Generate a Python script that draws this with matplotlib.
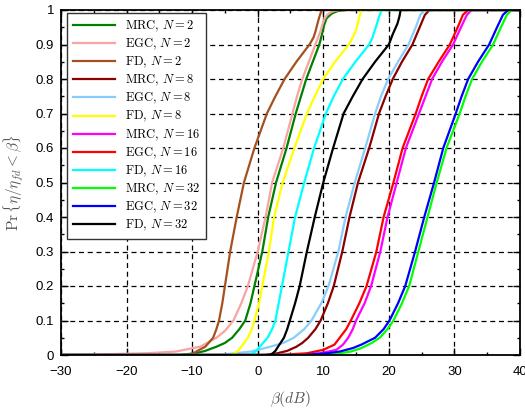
import matplotlib
matplotlib.use("Agg")
import matplotlib.pyplot as plt
from matplotlib.ticker import MultipleLocator

plt.rcParams['mathtext.fontset'] = 'cm'
plt.rcParams['font.family'] = ['Liberation Sans', 'DejaVu Sans']

labels = [r'$\mathrm{MRC},\,N=2$', r'$\mathrm{EGC},\,N=2$', r'$\mathrm{FD},\,N=2$',
          r'$\mathrm{MRC},\,N=8$', r'$\mathrm{EGC},\,N=8$', r'$\mathrm{FD},\,N=8$',
          r'$\mathrm{MRC},\,N=16$', r'$\mathrm{EGC},\,N=16$', r'$\mathrm{FD},\,N=16$',
          r'$\mathrm{MRC},\,N=32$', r'$\mathrm{EGC},\,N=32$', r'$\mathrm{FD},\,N=32$']
colors = ['#008000', '#f9a3a3', '#a5501e', '#8b0000', '#87cefa', '#ffff00',
          '#ff00ff', '#ff0000', '#00ffff', '#00ff00', '#0000ff', '#000000']

# probability levels (y) and beta in dB (x) per series
p_mrc2 = [0, 0, 0.005, 0.012, 0.024, 0.035, 0.05, 0.075, 0.1, 0.15, 0.2, 0.3, 0.4, 0.5, 0.6, 0.7, 0.75, 0.8, 0.85, 0.9, 0.937, 0.955, 0.976, 0.99, 0.997, 1, 1]
x_mrc2 = [-30, -12, -9.5, -8.0, -6.3, -5.0, -3.9, -2.8, -1.9, -1.1, -0.5, 0.7, 1.6, 2.8, 4.4, 5.8, 6.6, 7.4, 8.4, 9.4, 9.9, 10.1, 10.5, 11.3, 12.2, 13.5, 40]

p_egc2 = [0, 0.002, 0.005, 0.01, 0.024, 0.05, 0.07, 0.1, 0.15, 0.2, 0.3, 0.4, 0.5, 0.6, 0.7, 0.75, 0.8, 0.85, 0.9, 0.94, 0.96, 0.975, 0.986, 0.994, 0.998, 1, 1]
x_egc2 = [-30, -24, -17, -12.5, -8.8, -6.3, -5.0, -3.7, -2.5, -1.5, 0.0, 1.2, 2.2, 3.9, 5.3, 6.0, 6.8, 7.8, 8.8, 9.6, 9.9, 10.2, 10.6, 11.2, 11.8, 12.5, 40]

p_fd2 = [0, 0, 0.005, 0.012, 0.024, 0.05, 0.075, 0.1, 0.15, 0.2, 0.3, 0.4, 0.5, 0.6, 0.7, 0.75, 0.8, 0.85, 0.9, 0.92, 0.937, 0.96, 0.98, 1, 1]
x_fd2 = [-30, -10.5, -9.8, -9.2, -8.0, -6.8, -6.3, -5.9, -5.4, -5.0, -4.2, -3.2, -2.1, -0.5, 1.4, 2.7, 4.1, 5.9, 7.9, 8.5, 8.8, 9.1, 9.4, 9.75, 40]

p_mrc8 = [0, 0, 0.005, 0.012, 0.024, 0.035, 0.05, 0.075, 0.1, 0.15, 0.2, 0.3, 0.4, 0.5, 0.6, 0.7, 0.75, 0.8, 0.85, 0.9, 0.95, 0.986, 1, 1]
x_mrc8 = [-30, 1.0, 3.0, 4.5, 5.9, 6.8, 7.7, 8.8, 9.6, 10.7, 11.6, 12.9, 14.0, 15.3, 17.0, 18.5, 19.5, 20.6, 22.0, 23.6, 24.7, 25.5, 26.2, 40]

p_egc8 = [0, 0, 0.005, 0.01, 0.024, 0.035, 0.05, 0.075, 0.1, 0.15, 0.2, 0.3, 0.4, 0.5, 0.6, 0.7, 0.75, 0.8, 0.85, 0.9, 0.95, 0.986, 1, 1]
x_egc8 = [-30, -6, -3.5, -1, 1.9, 3.9, 5.5, 7.1, 8.2, 9.7, 10.8, 12.3, 13.4, 14.8, 16.4, 17.9, 18.8, 19.9, 21.4, 23.0, 24.1, 24.8, 25.5, 40]

p_fd8 = [0, 0, 0.005, 0.012, 0.024, 0.05, 0.075, 0.1, 0.15, 0.2, 0.3, 0.4, 0.5, 0.6, 0.7, 0.75, 0.8, 0.85, 0.9, 0.925, 0.942, 0.96, 0.98, 1, 1]
x_fd8 = [-30, -4.2, -3.5, -3.0, -2.5, -1.5, -0.9, -0.5, 0.2, 0.7, 1.7, 2.5, 3.8, 5.6, 7.5, 8.7, 10.0, 11.8, 13.9, 14.6, 15.0, 15.25, 15.5, 15.85, 40]

p_mrc16 = [0, 0, 0.005, 0.015, 0.03, 0.05, 0.075, 0.1, 0.15, 0.2, 0.3, 0.4, 0.5, 0.6, 0.7, 0.75, 0.8, 0.85, 0.9, 0.95, 0.986, 1, 1]
x_mrc16 = [-30, 5, 9.5, 12.0, 13.0, 13.8, 14.5, 15.0, 16.3, 17.3, 18.7, 19.8, 21.2, 22.6, 24.6, 25.6, 26.6, 28.1, 29.8, 31.0, 31.9, 32.6, 40]

p_egc16 = [0, 0, 0.005, 0.015, 0.03, 0.05, 0.075, 0.1, 0.15, 0.2, 0.3, 0.4, 0.5, 0.6, 0.7, 0.75, 0.8, 0.85, 0.9, 0.95, 0.986, 1, 1]
x_egc16 = [-30, 3, 7.5, 10.0, 11.7, 12.5, 13.5, 14.2, 15.5, 16.6, 18.1, 19.2, 20.7, 22.1, 24.1, 25.0, 26.0, 27.6, 29.3, 30.5, 31.3, 32.1, 40]

p_fd16 = [0, 0, 0.005, 0.012, 0.024, 0.05, 0.075, 0.1, 0.15, 0.2, 0.3, 0.4, 0.5, 0.6, 0.7, 0.75, 0.8, 0.85, 0.9, 0.92, 0.932, 0.955, 0.98, 1, 1]
x_fd16 = [-30, -1.3, -0.7, -0.2, 0.3, 1.5, 2.2, 2.7, 3.2, 3.7, 4.7, 5.7, 7.1, 8.6, 10.4, 11.6, 13.0, 14.9, 17.0, 17.5, 17.7, 18.1, 18.5, 18.9, 40]

p_mrc32 = [0, 0, 0.005, 0.01, 0.02, 0.035, 0.05, 0.075, 0.1, 0.15, 0.2, 0.3, 0.4, 0.5, 0.6, 0.7, 0.75, 0.8, 0.85, 0.9, 0.95, 0.986, 1, 1]
x_mrc32 = [-30, 8, 12.5, 14.2, 15.8, 17.4, 18.6, 19.8, 20.7, 22.0, 23.1, 24.5, 25.9, 27.3, 28.8, 30.8, 31.7, 32.7, 34.2, 35.9, 37.1, 38.0, 38.7, 40]

p_egc32 = [0, 0, 0.005, 0.01, 0.02, 0.03, 0.05, 0.075, 0.1, 0.15, 0.2, 0.3, 0.4, 0.5, 0.6, 0.7, 0.75, 0.8, 0.85, 0.9, 0.95, 0.986, 1, 1]
x_egc32 = [-30, 7, 10.5, 12.5, 14.5, 15.8, 17.9, 19.2, 20.1, 21.4, 22.5, 24.0, 25.4, 26.9, 28.3, 30.2, 31.1, 32.1, 33.6, 35.3, 36.5, 37.4, 38.2, 40]

p_fd32 = [0, 0, 0.005, 0.012, 0.024, 0.05, 0.075, 0.1, 0.15, 0.2, 0.3, 0.4, 0.5, 0.6, 0.7, 0.75, 0.8, 0.85, 0.9, 0.93, 0.96, 0.98, 1, 1]
x_fd32 = [-30, 1.9, 2.3, 2.7, 3.1, 4.0, 4.5, 4.9, 5.7, 6.4, 7.5, 8.7, 10.0, 11.5, 13.1, 14.5, 16.0, 17.9, 20.0, 20.6, 21.3, 21.6, 21.8, 40]

xs = [x_mrc2, x_egc2, x_fd2, x_mrc8, x_egc8, x_fd8, x_mrc16, x_egc16, x_fd16, x_mrc32, x_egc32, x_fd32]
ps = [p_mrc2, p_egc2, p_fd2, p_mrc8, p_egc8, p_fd8, p_mrc16, p_egc16, p_fd16, p_mrc32, p_egc32, p_fd32]

x_ticks = [-30, -20, -10, 0, 10, 20, 30, 40]
y_ticks = [0, 0.1, 0.2, 0.3, 0.4, 0.5, 0.6, 0.7, 0.8, 0.9, 1]
y_ticklabels = ['0', '0.1', '0.2', '0.3', '0.4', '0.5', '0.6', '0.7', '0.8', '0.9', '1']

fig = plt.figure(figsize=(5.25, 4.09), dpi=100)
ax = fig.add_axes([61/525, 54/409, 459/525, 345/409])

for x, p, c, l in zip(xs, ps, colors, labels):
    ax.plot(x, p, color=c, lw=1.6, label=l, solid_joinstyle='round')

ax.set_xlim(-30, 40)
ax.set_ylim(0, 1)
ax.set_xticks(x_ticks)
ax.set_yticks(y_ticks)
ax.set_yticklabels(y_ticklabels)
ax.xaxis.set_minor_locator(MultipleLocator(5))
ax.yaxis.set_minor_locator(MultipleLocator(0.05))
ax.tick_params(which='both', direction='in', top=True, right=True, labelsize=9.5, width=1)
ax.tick_params(which='major', length=5)
ax.tick_params(which='minor', length=2.5)
ax.tick_params(axis='x', which='major', pad=8)
ax.tick_params(axis='y', which='major', pad=5)
ax.grid(True, which='major', color='black', linestyle=(0, (4, 3)), linewidth=0.9)
for s in ax.spines.values():
    s.set_linewidth(1.3)

ax.set_xlabel(r'$\beta(dB)$', fontsize=11, color='#555555', labelpad=8)
ax.set_ylabel(r'$\Pr\{\eta/\eta_{fd} < \beta\}$', fontsize=11, color='#555555', labelpad=7)

leg = ax.legend(loc='upper left', bbox_to_anchor=(6/459, 342/345), borderaxespad=0,
                fontsize=9, handlelength=3.4, labelspacing=0.23, fancybox=False,
                edgecolor='#333333', framealpha=1, borderpad=0.45, handletextpad=0.8)
leg.get_frame().set_linewidth(1.0)

fig.savefig('out.png', dpi=100)
